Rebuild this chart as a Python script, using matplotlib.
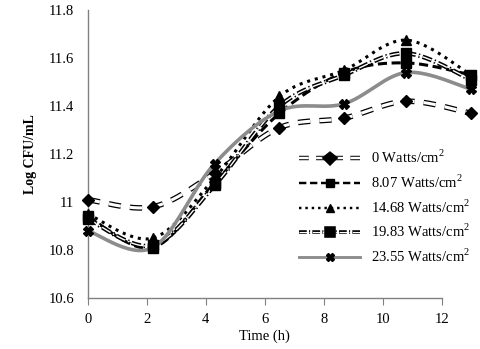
import numpy as np
import matplotlib
matplotlib.use("Agg")
import matplotlib.pyplot as plt
import matplotlib.patheffects as pe
from matplotlib.lines import Line2D

time_h = [0, 2.2, 4.3, 6.5, 8.7, 10.8, 13.0]
labels = ["0 Watts/cm$^2$", "8.07 Watts/cm$^2$", "14.68 Watts/cm$^2$",
          "19.83 Watts/cm$^2$", "23.55 Watts/cm$^2$"]
w0 = [11.01, 10.98, 11.12, 11.31, 11.35, 11.42, 11.37]
w807 = [10.94, 10.81, 11.08, 11.37, 11.54, 11.58, 11.53]
w1468 = [10.95, 10.85, 11.10, 11.44, 11.55, 11.675, 11.53]
w1983 = [10.93, 10.82, 11.07, 11.40, 11.53, 11.62, 11.51]
w2355 = [10.88, 10.81, 11.16, 11.38, 11.41, 11.54, 11.47]
xticks = [0, 2, 4, 6, 8, 10, 12]
yticks = [10.6, 10.8, 11.0, 11.2, 11.4, 11.6, 11.8]
ytick_labels = ["10.6", "10.8", "11", "11.2", "11.4", "11.6", "11.8"]

plt.rcParams['font.family'] = ['Liberation Serif', 'DejaVu Serif']
plt.rcParams['mathtext.fontset'] = 'custom'
plt.rcParams['mathtext.rm'] = 'Liberation Serif'


def smooth(x, y, n=30):
    x = np.asarray(x, float); y = np.asarray(y, float)
    P = np.column_stack([x, y])
    P = np.vstack([P[0], P, P[-1]])
    out = []
    for i in range(1, len(P) - 2):
        p0, p1, p2, p3 = P[i - 1], P[i], P[i + 1], P[i + 2]
        t = np.linspace(0, 1, n)[:, None]
        c = 0.5 * ((2 * p1) + (-p0 + p2) * t + (2 * p0 - 5 * p1 + 4 * p2 - p3) * t ** 2
                   + (-p0 + 3 * p1 - 3 * p2 + p3) * t ** 3)
        out.append(c if i == 1 else c[1:])
    c = np.vstack(out)
    return c[:, 0], c[:, 1]


fig = plt.figure(figsize=(4.8, 3.49), dpi=100)
ax = fig.add_axes([0.183, 0.146, 0.737, 0.825])

styles = [
    dict(data=w0, color='white', lw=2.2, ls=(0, (4, 3)), marker='D', ms=6, outline=4.0),
    dict(data=w807, color='black', lw=2.2, ls=(0, (3, 1.5)), marker='s', ms=7, outline=None),
    dict(data=w1468, color='black', lw=2.2, ls=(0, (1, 1.6)), marker='^', ms=7, outline=None),
    dict(data=w1983, color='white', lw=1.0, ls=(0, (7, 2, 1, 2)), marker='s', ms=7, outline=3.2),
    dict(data=w2355, color='#8c8c8c', lw=2.6, ls='-', marker='X', ms=7, outline=None),
]

handles = []
for st, lab in zip(styles, labels):
    sx, sy = smooth(time_h, st['data'])
    ln, = ax.plot(sx, sy, color=st['color'], lw=st['lw'], ls=st['ls'], clip_on=False,
                  solid_capstyle='butt', dash_capstyle='butt')
    if st['outline']:
        ln.set_path_effects([pe.Stroke(linewidth=st['outline'], foreground='black'), pe.Normal()])
    ax.plot(time_h, st['data'], ls='none', marker=st['marker'], ms=st['ms'],
            color='black', mec='black', clip_on=False, zorder=5)
    h = Line2D([], [], color=st['color'], lw=st['lw'] * 0.8,
               ls=st['ls'], marker=st['marker'], ms=st['ms'] * 0.8, mfc='black', mec='black')
    if st['outline']:
        h.set_path_effects([pe.Stroke(linewidth=st['outline'] * 0.8, foreground='black'),
                            pe.Normal()])
    handles.append(h)

ax.set_xlim(0, 12)
ax.set_ylim(10.6, 11.8)
ax.set_xticks(xticks)
ax.set_xticklabels([str(t) for t in xticks])
ax.set_yticks(yticks)
ax.set_yticklabels(ytick_labels)
for s in ['top', 'right']:
    ax.spines[s].set_visible(False)
for s in ['left', 'bottom']:
    ax.spines[s].set_color('#808080')
    ax.spines[s].set_linewidth(1.0)
ax.tick_params(axis='x', direction='out', length=5, color='#808080', labelsize=10.5, pad=6)
ax.tick_params(axis='y', length=0, labelsize=10.5, pad=10)
ax.set_xlabel("Time (h)", fontsize=10.5, labelpad=2)
ax.set_ylabel("Log CFU/mL", fontsize=10, fontweight='bold', labelpad=8)

leg = ax.legend(handles=handles, labels=labels, loc='lower right',
                bbox_to_anchor=(1.105, 0.085), frameon=False, fontsize=10.5,
                handlelength=4.2, labelspacing=0.5, handletextpad=0.7,
                borderaxespad=0.2)

fig.savefig("out.png", dpi=100)
